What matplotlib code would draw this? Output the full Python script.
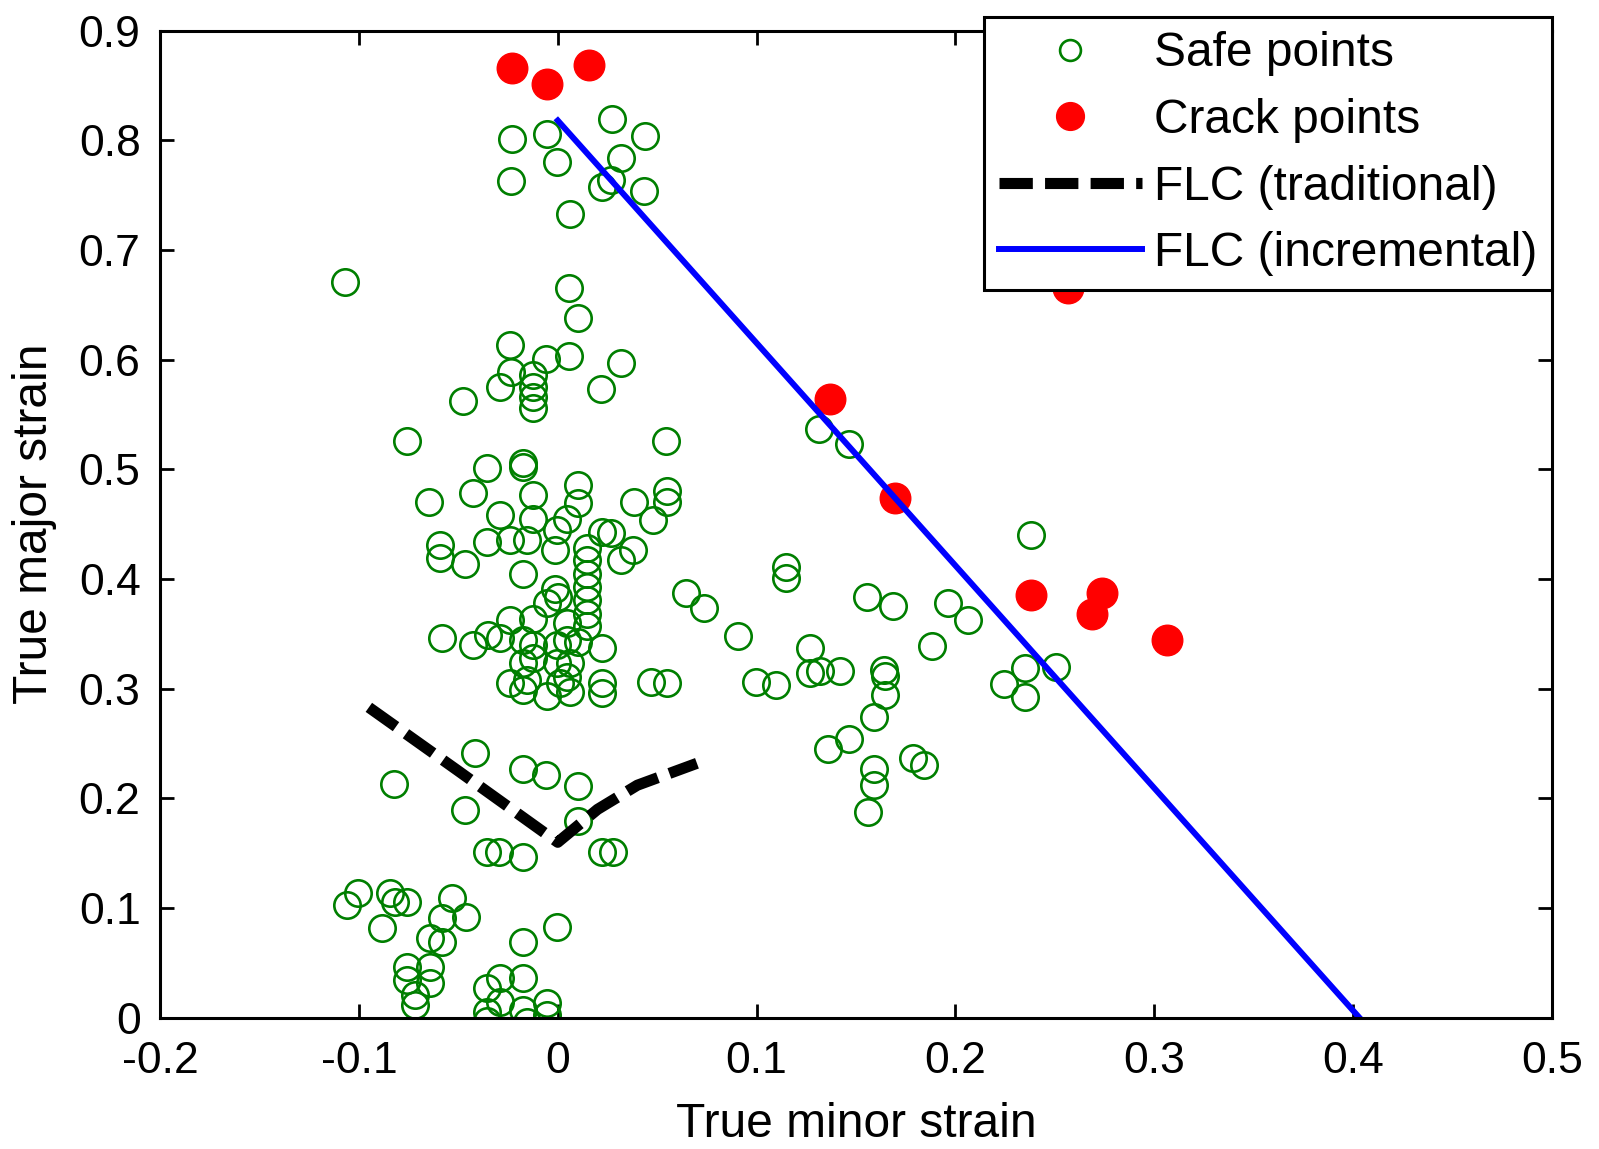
import matplotlib
matplotlib.use("Agg")
from matplotlib import pyplot as plt

plt.rcParams["font.family"] = ["Liberation Sans", "DejaVu Sans"]
plt.rcParams["axes.unicode_minus"] = False

# Safe points (true minor strain, true major strain)
safe_minor = [
    -0.0232, -0.0056, -0.0006, -0.0236, 0.0274, 0.0438, 0.032, 0.022, 0.027, 0.0433,
    0.006, -0.107, 0.0056, 0.0103, -0.024, -0.006, 0.0057, 0.0316,
    -0.0288, -0.0237, -0.0127, -0.0127, -0.0127, -0.0127, 0.0218, -0.0476, -0.076, 0.0543,
    -0.0358, -0.0174, -0.0174, -0.0425, -0.0127, 0.0103, 0.0103, -0.0647, 0.0384, 0.0547,
    0.0547, 0.048, -0.029, -0.0127, 0.0044, -0.0006, 0.022, 0.027, -0.0358, -0.024,
    -0.0157, -0.0015, 0.0145, 0.0145, 0.0145, 0.0145, 0.0145, 0.0145, 0.0379, 0.032,
    -0.0593, -0.0593, -0.0467, -0.0174, -0.0015, 0.0002, 0.0645, 0.0733, -0.0056, -0.0124,
    -0.024, 0.0044, 0.0145, -0.058, -0.0425, -0.035, -0.029, -0.0174, -0.0124, -0.0006,
    0.0044, 0.0103, 0.022, -0.0174, -0.0124, -0.0006, 0.006, -0.024, -0.0157, -0.0056,
    0.001, 0.006, 0.022, 0.022, 0.0471, 0.0547, 0.0044, -0.0174,
    -0.0416, -0.0824, -0.0464, -0.0174, -0.006, 0.0103, 0.0103, -0.0358, -0.0295, -0.0174,
    0.022, 0.0279, -0.1003, -0.1062, -0.0844, -0.0819, -0.076, -0.0886, -0.0534, -0.0584,
    -0.0459, -0.0643, -0.0584, -0.076, -0.0643, -0.0643, -0.076, -0.0718, -0.0718, -0.0174,
    -0.0006, -0.029, -0.0174, -0.0358, -0.0358, -0.029, -0.0174, -0.0056, -0.0056, -0.0358,
    -0.0157,
    0.1313, 0.1464, 0.115, 0.115, 0.0904, 0.1267, 0.1267, 0.1318, 0.1418, 0.0999,
    0.11, 0.1641, 0.1644, 0.1644, 0.159, 0.136, 0.1464, 0.159, 0.159, 0.1558,
    0.1787, 0.184, 0.1553, 0.1686, 0.1963, 0.2063, 0.1884, 0.2379, 0.2348, 0.2508,
    0.2244, 0.2348,
]
safe_major = [
    0.801, 0.806, 0.780, 0.763, 0.819, 0.804, 0.784, 0.757, 0.764, 0.754,
    0.733, 0.671, 0.665, 0.638, 0.613, 0.601, 0.603, 0.597,
    0.575, 0.589, 0.586, 0.575, 0.566, 0.556, 0.573, 0.562, 0.526, 0.526,
    0.501, 0.502, 0.506, 0.478, 0.477, 0.486, 0.469, 0.470, 0.470, 0.480,
    0.470, 0.454, 0.458, 0.455, 0.455, 0.445, 0.443, 0.442, 0.434, 0.436,
    0.436, 0.426, 0.428, 0.417, 0.405, 0.393, 0.381, 0.368, 0.426, 0.417,
    0.431, 0.419, 0.414, 0.405, 0.391, 0.384, 0.387, 0.374, 0.378, 0.364,
    0.363, 0.360, 0.357, 0.346, 0.340, 0.349, 0.346, 0.344, 0.340, 0.340,
    0.344, 0.343, 0.337, 0.323, 0.328, 0.323, 0.323, 0.305, 0.308, 0.293,
    0.305, 0.297, 0.305, 0.296, 0.306, 0.305, 0.311, 0.299,
    0.241, 0.213, 0.189, 0.227, 0.221, 0.211, 0.179, 0.151, 0.151, 0.147,
    0.151, 0.151, 0.1135, 0.1028, 0.1135, 0.106, 0.106, 0.0816, 0.109, 0.0907,
    0.0922, 0.0725, 0.0694, 0.0466, 0.0466, 0.0315, 0.0345, 0.0117, 0.0208, 0.0694,
    0.083, 0.036, 0.036, 0.0269, 0.0056, 0.0147, 0.007, 0.0132, 0.0026, -0.003,
    -0.004,
    0.537, 0.523, 0.411, 0.401, 0.348, 0.337, 0.314, 0.316, 0.316, 0.306,
    0.303, 0.317, 0.312, 0.294, 0.274, 0.245, 0.254, 0.227, 0.212, 0.188,
    0.2366, 0.2305, 0.384, 0.375, 0.378, 0.363, 0.339, 0.440, 0.319, 0.320,
    0.304, 0.292,
]

# Crack points
crack_minor = [-0.0232, -0.0053, 0.0158, 0.2566, 0.1368, 0.1695, 0.2379, 0.2739, 0.2689, 0.3066]
crack_major = [0.866, 0.851, 0.869, 0.665, 0.564, 0.474, 0.385, 0.387, 0.368, 0.344]

# Forming limit curves
flc_trad_minor = [-0.095, -0.05, 0.0, 0.02, 0.04, 0.07]
flc_trad_major = [0.283, 0.225, 0.16, 0.19, 0.212, 0.232]
flc_inc_minor = [0.0, 0.4032]
flc_inc_major = [0.818, 0.0]

xticks = [-0.2, -0.1, 0, 0.1, 0.2, 0.3, 0.4, 0.5]
xticklabels = ["-0.2", "-0.1", "0", "0.1", "0.2", "0.3", "0.4", "0.5"]
yticks = [0, 0.1, 0.2, 0.3, 0.4, 0.5, 0.6, 0.7, 0.8, 0.9]
yticklabels = ["0", "0.1", "0.2", "0.3", "0.4", "0.5", "0.6", "0.7", "0.8", "0.9"]

fs_tick = 32
fs_label = 34.5

fig = plt.figure(figsize=(15.99, 11.49), dpi=100)
ax = fig.add_axes([0.1001, 0.1142, 0.8705, 0.8592])

ax.plot(safe_minor, safe_major, linestyle="none", marker="o", markersize=19,
        markerfacecolor="none", markeredgecolor="#007f00", markeredgewidth=1.9,
        label="Safe points")
ax.plot(crack_minor, crack_major, linestyle="none", marker="o", markersize=22,
        color="red", label="Crack points")
ax.plot(flc_trad_minor, flc_trad_major, color="black", linewidth=8,
        dashes=(3, 1.1), label="FLC (traditional)")
ax.plot(flc_inc_minor, flc_inc_major, color="blue", linewidth=4.3,
        label="FLC (incremental)")

ax.set_xlim(-0.2, 0.5)
ax.set_ylim(0, 0.9)
ax.set_xticks(xticks)
ax.set_xticklabels(xticklabels)
ax.set_yticks(yticks)
ax.set_yticklabels(yticklabels)
ax.tick_params(direction="in", length=10, width=2, labelsize=fs_tick, pad=14,
               top=True, right=True)
ax.tick_params(axis="x", pad=17)
for s in ax.spines.values():
    s.set_linewidth(2.2)

ax.set_xlabel("True minor strain", fontsize=fs_label, labelpad=14)
ax.set_ylabel("True major strain", fontsize=fs_label, labelpad=16)

leg = ax.legend(loc="upper right", bbox_to_anchor=(1552 / 1599, 1 - 17 / 1149),
                bbox_transform=fig.transFigure, fontsize=fs_label, frameon=True,
                fancybox=False, framealpha=1, edgecolor="black",
                handlelength=3.0, handletextpad=0.25, borderpad=0.3,
                labelspacing=0.45, borderaxespad=0)
leg.get_frame().set_linewidth(2.2)
leg.legend_handles[0].set_markersize(15)
leg.legend_handles[1].set_markersize(20)

fig.savefig("out.png", dpi=100, facecolor="white")
